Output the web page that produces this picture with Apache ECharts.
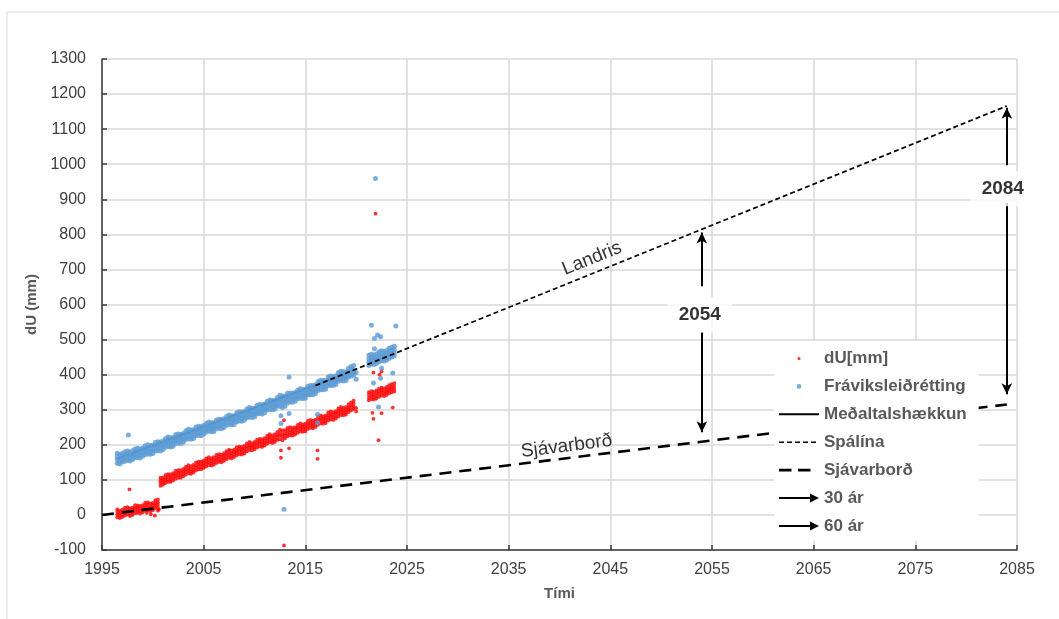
<!DOCTYPE html>
<html>
<head>
<meta charset="utf-8">
<title>dU (mm) – landris og sjávarborð</title>
<script src="https://cdn.jsdelivr.net/npm/echarts@6/dist/echarts.min.js"></script>
<style>
  html, body { margin: 0; padding: 0; background: #ffffff; }
  #chart { width: 1059px; height: 619px; }
</style>
</head>
<body>
<div id="chart"></div>
<script>
// Time axis is drawn as years after BASE_YEAR so ticks fall on 1995, 2005, ...
const BASE_YEAR = 1995;
const xTicks = { min: 0, max: 90, step: 10 };
const yTicks = { min: -100, max: 1300, step: 100 };

// GPS readings, dU[mm]: [year, reading, reading, reading, reading]
const redReadings = [
  [1996.50, -7, 1, 9, 16], [1996.75, -9, -2, 5, 12], [1997.00, -6, 2, 8, 15], [1997.25, -2, 6, 13, 21],
  [1997.50, 1, 8, 14, 22], [1997.75, -3, 4, 11, 19], [1998.00, 0, 7, 14, 21], [1998.25, 5, 13, 20, 28],
  [1998.50, 6, 14, 21, 27], [1998.75, 4, 11, 18, 26], [1999.00, 7, 14, 21, 28], [1999.25, 12, 20, 27, 35],
  [1999.50, 13, 21, 29, 36], [1999.75, 11, 18, 25, 33], [2000.00, 13, 20, 27, 34], [2000.25, 19, 27, 34, 42],
  [2000.50, 21, 29, 36, 44],
  [2000.75, 83, 91, 98, 106], [2001.00, 86, 93, 100, 107], [2001.25, 91, 99, 106, 114], [2001.50, 94, 101, 109, 116],
  [2001.75, 94, 101, 108, 116], [2002.00, 98, 105, 112, 119], [2002.25, 103, 111, 118, 126], [2002.50, 106, 113, 120, 128],
  [2002.75, 106, 113, 120, 128], [2003.00, 110, 117, 124, 131], [2003.25, 115, 123, 130, 138], [2003.50, 119, 127, 134, 142],
  [2003.75, 117, 124, 131, 139], [2004.00, 121, 128, 135, 143], [2004.25, 127, 135, 142, 150], [2004.50, 130, 137, 145, 152],
  [2004.75, 130, 137, 144, 152], [2005.00, 134, 141, 148, 155], [2005.25, 138, 146, 153, 161], [2005.50, 142, 150, 157, 165],
  [2005.75, 141, 148, 155, 162], [2006.00, 143, 150, 157, 165], [2006.25, 148, 156, 163, 171], [2006.50, 151, 158, 166, 173],
  [2006.75, 150, 157, 164, 172], [2007.00, 154, 161, 168, 176], [2007.25, 159, 167, 174, 182], [2007.50, 163, 171, 178, 186],
  [2007.75, 161, 168, 175, 183], [2008.00, 165, 172, 179, 186], [2008.25, 170, 178, 185, 193], [2008.50, 173, 181, 188, 195],
  [2008.75, 172, 179, 186, 194], [2009.00, 175, 182, 189, 197], [2009.25, 181, 189, 196, 204], [2009.50, 185, 193, 200, 208],
  [2009.75, 184, 191, 198, 205], [2010.00, 187, 194, 201, 208], [2010.25, 192, 200, 207, 215], [2010.50, 195, 203, 210, 217],
  [2010.75, 194, 201, 208, 216], [2011.00, 198, 205, 212, 219], [2011.25, 203, 211, 218, 226], [2011.50, 207, 215, 222, 230],
  [2011.75, 205, 212, 219, 227], [2012.00, 208, 215, 222, 230], [2012.25, 214, 222, 229, 237], [2012.50, 216, 226, 234, 243],
  [2012.75, 213, 223, 231, 241], [2013.00, 218, 226, 233, 242], [2013.25, 224, 232, 240, 248], [2013.50, 227, 235, 242, 250],
  [2013.75, 226, 233, 240, 248], [2014.00, 229, 236, 243, 250], [2014.25, 234, 242, 249, 257], [2014.50, 238, 246, 253, 261],
  [2014.75, 237, 244, 251, 258], [2015.00, 238, 245, 252, 260], [2015.25, 245, 253, 260, 268], [2015.50, 248, 256, 263, 271],
  [2015.75, 247, 254, 261, 269], [2016.00, 251, 258, 265, 272], [2016.25, 257, 265, 272, 280], [2016.50, 261, 269, 276, 284],
  [2016.75, 260, 267, 274, 281], [2017.00, 262, 269, 276, 284], [2017.25, 269, 277, 284, 292], [2017.50, 272, 280, 287, 295],
  [2017.75, 271, 278, 285, 293], [2018.00, 275, 282, 289, 296], [2018.25, 281, 289, 296, 304], [2018.50, 285, 293, 300, 308],
  [2018.75, 284, 291, 298, 305], [2019.00, 286, 293, 300, 308], [2019.25, 293, 301, 308, 316], [2019.50, 298, 306, 313, 321],
  [2019.75, 302, 309, 317, 326],
  [2021.25, 327, 334, 342, 350], [2021.50, 330, 338, 345, 353], [2021.75, 329, 336, 343, 351], [2022.00, 332, 339, 347, 355],
  [2022.25, 337, 345, 352, 360], [2022.50, 340, 348, 355, 363], [2022.75, 339, 346, 353, 361], [2023.00, 342, 350, 357, 365],
  [2023.25, 347, 355, 362, 370], [2023.50, 350, 358, 365, 373], [2023.75, 352, 360, 368, 376]
];
const redOutliers = [
  [1997.7, 73], [1999.4, 6], [1999.8, 2], [2000.2, -2], [2000.5, 12], [2000.6, 16],
  [2012.9, -87], [2012.6, 184], [2012.6, 163], [2012.9, 270], [2013.4, 190],
  [2016.2, 184], [2016.2, 160], [2020.0, 305], [2020.0, 295],
  [2021.9, 859], [2021.7, 406], [2022.5, 409], [2022.3, 400], [2021.6, 291],
  [2021.7, 274], [2022.5, 290], [2022.2, 213], [2023.6, 306]
];

// Fráviksleiðrétting (corrected readings): [year, reading, reading, reading, reading]
const blueReadings = [
  [1996.50, 147, 158, 166, 176], [1996.75, 145, 153, 163, 172], [1997.00, 151, 159, 166, 175], [1997.25, 153, 163, 171, 180],
  [1997.50, 156, 164, 173, 182], [1997.75, 154, 160, 170, 179], [1998.00, 158, 167, 173, 183], [1998.25, 163, 170, 179, 188],
  [1998.50, 164, 173, 181, 190], [1998.75, 162, 171, 178, 188], [1999.00, 167, 174, 182, 191], [1999.25, 172, 180, 189, 197],
  [1999.50, 174, 184, 191, 200], [1999.75, 173, 181, 189, 198], [2000.00, 175, 183, 190, 199], [2000.25, 182, 190, 199, 207],
  [2000.50, 183, 192, 200, 209], [2000.75, 182, 191, 198, 208], [2001.00, 186, 195, 202, 211], [2001.25, 193, 201, 209, 218],
  [2001.50, 195, 205, 212, 222], [2001.75, 194, 203, 210, 220], [2002.00, 196, 205, 211, 221], [2002.25, 204, 211, 220, 229],
  [2002.50, 205, 214, 222, 231], [2002.75, 204, 213, 220, 230], [2003.00, 207, 216, 223, 232], [2003.25, 215, 222, 231, 240],
  [2003.50, 217, 227, 234, 244], [2003.75, 216, 225, 232, 242], [2004.00, 218, 226, 233, 243], [2004.25, 226, 233, 242, 251],
  [2004.50, 227, 236, 244, 253], [2004.75, 226, 235, 242, 252], [2005.00, 230, 238, 245, 255], [2005.25, 236, 244, 252, 261],
  [2005.50, 239, 248, 256, 265], [2005.75, 237, 246, 253, 263], [2006.00, 238, 247, 253, 263], [2006.25, 246, 254, 262, 271],
  [2006.50, 247, 256, 264, 273], [2006.75, 246, 255, 262, 272], [2007.00, 249, 258, 264, 274], [2007.25, 256, 264, 272, 281],
  [2007.50, 258, 268, 276, 285], [2007.75, 257, 266, 273, 283], [2008.00, 258, 267, 273, 283], [2008.25, 266, 274, 282, 291],
  [2008.50, 268, 277, 285, 294], [2008.75, 267, 276, 283, 293], [2009.00, 270, 279, 285, 295], [2009.25, 277, 285, 293, 302],
  [2009.50, 279, 289, 297, 306], [2009.75, 278, 287, 294, 304], [2010.00, 279, 288, 294, 304], [2010.25, 288, 295, 304, 313],
  [2010.50, 289, 298, 306, 315], [2010.75, 288, 297, 304, 314], [2011.00, 291, 300, 306, 316], [2011.25, 299, 306, 315, 324],
  [2011.50, 301, 311, 319, 328], [2011.75, 300, 309, 316, 326], [2012.00, 301, 310, 316, 326], [2012.25, 310, 317, 326, 335],
  [2012.50, 310, 322, 330, 341], [2012.75, 306, 318, 328, 339], [2013.00, 310, 320, 328, 339], [2013.25, 319, 328, 337, 347],
  [2013.50, 322, 331, 339, 348], [2013.75, 321, 330, 337, 347], [2014.00, 324, 333, 339, 349], [2014.25, 331, 339, 347, 356],
  [2014.50, 333, 343, 350, 360], [2014.75, 332, 341, 348, 358], [2015.00, 333, 342, 348, 358], [2015.25, 342, 349, 358, 367],
  [2015.50, 343, 352, 360, 369], [2015.75, 343, 352, 359, 369], [2016.00, 346, 355, 361, 371], [2016.25, 355, 362, 371, 380],
  [2016.50, 357, 367, 375, 384], [2016.75, 357, 366, 373, 383], [2017.00, 358, 367, 373, 383], [2017.25, 368, 375, 384, 393],
  [2017.50, 370, 379, 387, 396], [2017.75, 369, 378, 385, 395], [2018.00, 372, 381, 387, 397], [2018.25, 381, 388, 397, 406],
  [2018.50, 383, 393, 401, 410], [2018.75, 382, 391, 398, 408], [2019.00, 383, 392, 398, 408], [2019.25, 393, 400, 409, 418],
  [2019.50, 396, 406, 413, 423], [2019.75, 398, 405, 414, 426],
  [2021.25, 426, 436, 445, 455], [2021.50, 430, 440, 448, 458], [2021.75, 429, 438, 446, 456], [2022.00, 432, 441, 449, 459],
  [2022.25, 437, 447, 455, 465], [2022.50, 440, 450, 458, 468], [2022.75, 439, 448, 456, 466], [2023.00, 442, 451, 459, 469],
  [2023.25, 447, 457, 465, 475], [2023.50, 450, 460, 468, 478], [2023.75, 453, 462, 471, 481]
];
const blueOutliers = [
  [1997.6, 228], [2012.6, 283], [2012.6, 261], [2013.4, 289], [2013.4, 393], [2012.9, 16],
  [2016.2, 287], [2016.2, 263], [2020.0, 406], [2020.0, 387],
  [2021.9, 959], [2021.5, 541], [2021.8, 503], [2022.1, 513], [2022.4, 508], [2021.8, 474],
  [2023.9, 539], [2022.5, 419], [2022.4, 390], [2021.7, 376], [2023.6, 405], [2022.2, 308]
];

// Reference lines: [year, mm]
const meanRise = [[1996.5, 160], [2019.5, 408]];
const forecastLine = [[2016.0, 369], [2084, 1166]];
const seaLevel = [[1995, 0], [2084, 315]];

// Arrows marking the gap between land rise and sea level: [year, fromMM, toMM]
const arrows30 = [[2054, 652, 805], [2054, 521, 236]];
const arrows60 = [[2084, 997, 1161], [2084, 890, 344]];

// Text placed in the plot: [year, mm, text]
const yearNotes = [[2053.8, 570, '2054'], [2083.6, 930, '2084']];
const lineNotes = [[2043.2, 731, 'Landris', 22], [2040.7, 196, 'Sjávarborð', 7]];

const FONT = '"Liberation Sans", Arial, Helvetica, sans-serif';
const toX = (y) => +(y - BASE_YEAR).toFixed(3);
const flattenRows = (rows) => rows.flatMap(r => r.slice(1).map(v => [toX(r[0]), v]));
const pairs = (list) => list.map(p => [toX(p[0]), p[1]]);
const arrowData = (list) => list.map(a => [{ coord: [toX(a[0]), a[1]] }, { coord: [toX(a[0]), a[2]] }]);

// Legend icons, each laid out in a 40x14 box (corner specks fix the box size)
const BOX = 'M0,0L0.01,0L0,0.01Z M40,14L39.99,14L40,13.99Z ';
const dotIcon = (r) => `path://${BOX}M${20 - r},7a${r},${r} 0 1,0 ${2 * r},0a${r},${r} 0 1,0 ${-2 * r},0Z`;
const solidIcon = `path://${BOX}M0,6h40v2h-40Z`;
const shortDashIcon = `path://${BOX}M0,6.2h5v1.6h-5Z M8,6.2h5v1.6h-5Z M16,6.2h5v1.6h-5Z M24,6.2h5v1.6h-5Z M32,6.2h5v1.6h-5Z`;
const longDashIcon = `path://${BOX}M0,5.7h12.5v2.6h-12.5Z M19,5.7h12.5v2.6h-12.5Z`;
const arrowIcon = `path://${BOX}M0,6h31v-3.5l9,4.5l-9,4.5v-3.5h-31Z`;

const chart = echarts.init(document.getElementById('chart'), null, { renderer: 'canvas' });

const arrowSeries = (name, list) => ({
  name, type: 'line', data: [], symbol: 'none',
  color: '#000000',
  lineStyle: { color: '#000000', width: 2 },
  z: 6,
  markLine: {
    silent: true, animation: false,
    symbol: ['none', 'arrow'], symbolSize: [8, 11],
    label: { show: false },
    lineStyle: { color: '#000000', width: 2, type: 'solid' },
    data: arrowData(list)
  }
});

chart.setOption({
  animation: false,
  backgroundColor: '#ffffff',
  textStyle: { fontFamily: FONT },
  graphic: [{
    type: 'rect', silent: true, z: -10,
    shape: { x: 7, y: 12, width: 1100, height: 700 },
    style: { fill: 'none', stroke: '#d9d9d9', lineWidth: 1 }
  }],
  grid: { left: 102, right: 42, top: 59, bottom: 69, containLabel: false, outerBoundsMode: 'none' },
  legend: {
    orient: 'vertical', left: 774, top: 341, z: 20,
    padding: [9, 12, 6, 5],
    itemWidth: 40, itemHeight: 14, itemGap: 10.9,
    backgroundColor: '#ffffff',
    textStyle: { color: '#595959', fontWeight: 'bold', fontSize: 17, fontFamily: FONT },
    selectedMode: false,
    data: [
      { name: 'dU[mm]', icon: dotIcon(1.6) },
      { name: 'Fráviksleiðrétting', icon: dotIcon(2.4) },
      { name: 'Meðaltalshækkun', icon: solidIcon },
      { name: 'Spálína', icon: shortDashIcon },
      { name: 'Sjávarborð', icon: longDashIcon },
      { name: '30 ár', icon: arrowIcon },
      { name: '60 ár', icon: arrowIcon }
    ]
  },
  xAxis: {
    type: 'value', min: xTicks.min, max: xTicks.max, interval: xTicks.step,
    name: 'Tími', nameLocation: 'middle', nameGap: 36,
    nameTextStyle: { color: '#595959', fontWeight: 'bold', fontSize: 15, fontFamily: FONT },
    axisLine: { show: true, onZero: false, lineStyle: { color: '#3a3a3a', width: 1.5 } },
    axisTick: { show: true, inside: true, length: 5, lineStyle: { color: '#3a3a3a', width: 1.5 } },
    axisLabel: { color: '#404040', fontSize: 16, margin: 12, fontFamily: FONT, formatter: v => String(v + BASE_YEAR) },
    splitLine: { show: true, lineStyle: { color: '#d9d9d9', width: 1.5 } }
  },
  yAxis: {
    type: 'value', min: yTicks.min, max: yTicks.max, interval: yTicks.step,
    name: 'dU (mm)', nameLocation: 'middle', nameGap: 55, nameRotate: 90,
    nameTextStyle: { color: '#595959', fontWeight: 'bold', fontSize: 15, fontFamily: FONT },
    axisLine: { show: true, lineStyle: { color: '#3a3a3a', width: 1.5 } },
    axisTick: { show: true, inside: true, length: 5, lineStyle: { color: '#3a3a3a', width: 1.5 } },
    axisLabel: { color: '#404040', fontSize: 16, margin: 16, fontFamily: FONT, formatter: v => String(v) },
    splitLine: { show: true, lineStyle: { color: '#d9d9d9', width: 1.5 } }
  },
  series: [
    {
      name: 'Meðaltalshækkun', type: 'line', data: pairs(meanRise), symbol: 'none',
      color: '#000000', lineStyle: { color: '#000000', width: 2 }, z: 1
    },
    {
      name: 'dU[mm]', type: 'scatter', symbol: 'circle', symbolSize: 3.8,
      color: '#ff0000', itemStyle: { color: '#ff0000' },
      data: flattenRows(redReadings).concat(pairs(redOutliers)), z: 2
    },
    {
      name: 'Fráviksleiðrétting', type: 'scatter', symbol: 'circle', symbolSize: 5,
      color: '#5b9bd5', itemStyle: { color: '#5b9bd5' },
      data: flattenRows(blueReadings).concat(pairs(blueOutliers)), z: 3
    },
    {
      name: 'Spálína', type: 'line', data: pairs(forecastLine), symbol: 'none',
      color: '#000000', lineStyle: { color: '#000000', width: 1.7, type: [5, 3] }, z: 4
    },
    {
      name: 'Sjávarborð', type: 'line', data: pairs(seaLevel), symbol: 'none',
      color: '#000000', lineStyle: { color: '#000000', width: 2.6, type: [12, 8] }, z: 4
    },
    arrowSeries('30 ár', arrows30),
    arrowSeries('60 ár', arrows60),
    {
      name: 'notes', type: 'scatter', symbolSize: 0, silent: true, z: 8,
      data: yearNotes.map(n => ({ value: [toX(n[0]), n[1]], name: n[2] })),
      label: {
        show: true, position: 'inside', formatter: p => p.name,
        color: '#000000', fontWeight: 'bold', fontSize: 19, fontFamily: FONT,
        backgroundColor: '#ffffff', padding: [8, 11]
      }
    },
    {
      name: 'lineNames', type: 'scatter', symbolSize: 0, silent: true, z: 8,
      data: lineNotes.map(n => ({ value: [toX(n[0]), n[1]], name: n[2], label: { rotate: n[3] } })),
      label: {
        show: true, position: 'inside', formatter: p => p.name,
        color: '#000000', fontSize: 19, fontFamily: FONT
      }
    }
  ]
});
</script>
</body>
</html>
